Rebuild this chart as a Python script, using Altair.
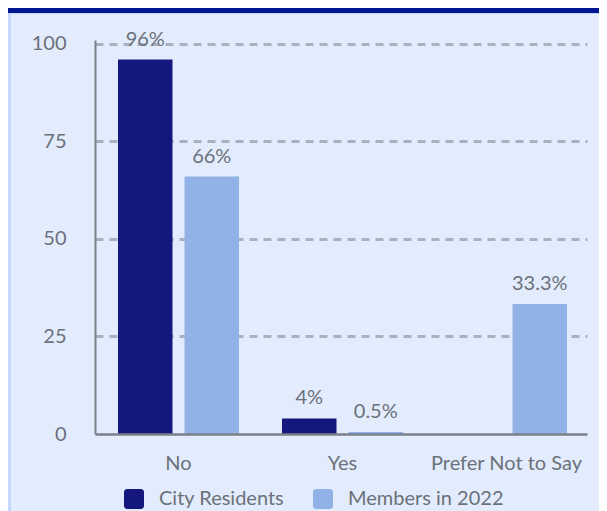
import altair as alt
import pandas as pd

categories = ["No", "Yes", "Prefer Not to Say"]
series = ["City Residents", "Members in 2022"]
city_values = [96, 4, 0]
member_values = [66, 0.5, 33.3]
city_labels = ["96%", "4%", ""]
member_labels = ["66%", "0.5%", "33.3%"]
y_ticks = [0, 25, 50, 75, 100]

colors = ["#14187e", "#90b2e6"]
gray = "#6b717a"
FONT = "Lato"
FS = 20

rows = []
for c, v, l in zip(categories, city_values, city_labels):
    rows.append({"category": c, "series": series[0], "value": v, "label": l})
for c, v, l in zip(categories, member_values, member_labels):
    rows.append({"category": c, "series": series[1], "value": v, "label": l})
df = pd.DataFrame(rows)

W, H = 492, 394
PL, PT, PR, PB = 87, 32, 12, 77

rounded = ("M -0.7 -1 L 0.7 -1 A 0.3 0.3 0 0 1 1 -0.7 L 1 0.7 A 0.3 0.3 0 0 1 0.7 1 "
           "L -0.7 1 A 0.3 0.3 0 0 1 -1 0.7 L -1 -0.7 A 0.3 0.3 0 0 1 -0.7 -1 Z")

x_enc = alt.X("category:N", sort=categories,
              scale=alt.Scale(paddingInner=0.262, paddingOuter=0.131, align=0.535),
              axis=alt.Axis(title=None, labelAngle=0, ticks=False, tickSize=0,
                            labelPadding=19, labelFont=FONT, labelFontSize=FS,
                            labelColor=gray, domainColor="#7b8089", domainWidth=2.5,
                            grid=False, zindex=1))
xo_enc = alt.XOffset("series:N", sort=series,
                     scale=alt.Scale(paddingInner=0.18, paddingOuter=0))
y_enc = alt.Y("value:Q", scale=alt.Scale(domain=[0, 101], nice=False, zero=True),
              axis=alt.Axis(title=None, values=y_ticks, ticks=False, tickSize=0,
                            labelPadding=29, labelFont=FONT, labelFontSize=FS,
                            labelColor=gray, domainColor="#7b8089", domainWidth=2,
                            grid=True, gridDash=[8, 6], gridColor="#a9b1bf",
                            gridWidth=3,
                            gridOpacity={"condition": {"test": "datum.value === 0", "value": 0}, "value": 1}))

base = alt.Chart(df).encode(x=x_enc, xOffset=xo_enc, y=y_enc)

bars = base.mark_bar().encode(
    color=alt.Color("series:N", sort=series,
                    scale=alt.Scale(domain=series, range=colors),
                    legend=alt.Legend(title=None, orient="none", direction="horizontal",
                                      legendX=29, legendY=449, symbolType=rounded,
                                      symbolSize=400, symbolStrokeWidth=0,
                                      symbolOpacity=1,
                                      labelFont=FONT, labelFontSize=FS, labelColor=gray,
                                      labelOffset=15, columnPadding=28, padding=0))
)

text = base.mark_text(baseline="alphabetic", dy=-14, font=FONT, fontSize=FS, color=gray).encode(
    text="label:N"
)

deco_df = pd.DataFrame({"k": [0]})
top_band = alt.Chart(deco_df).mark_rect(color="#001591").encode(
    x=alt.value(-PL), x2=alt.value(W + PR), y=alt.value(-PT), y2=alt.value(-PT + 5))
top_line = alt.Chart(deco_df).mark_rect(color="#c5d8fb").encode(
    x=alt.value(-PL), x2=alt.value(W + PR), y=alt.value(-PT + 5), y2=alt.value(-PT + 6))
left_stripe = alt.Chart(deco_df).mark_rect(color="#c5d8fb").encode(
    x=alt.value(-PL), x2=alt.value(-PL + 3), y=alt.value(-PT + 5), y2=alt.value(H + PB))

chart = alt.layer(top_band, top_line, left_stripe, bars, text).properties(
    width=W, height=H,
    autosize=alt.AutoSizeParams(type="none"),
    padding={"left": PL, "top": PT, "right": PR, "bottom": PB},
    background="#e3ecfd",
).configure_view(stroke=None)

chart.save("out.html", embed_options={"renderer": "svg", "actions": False})
